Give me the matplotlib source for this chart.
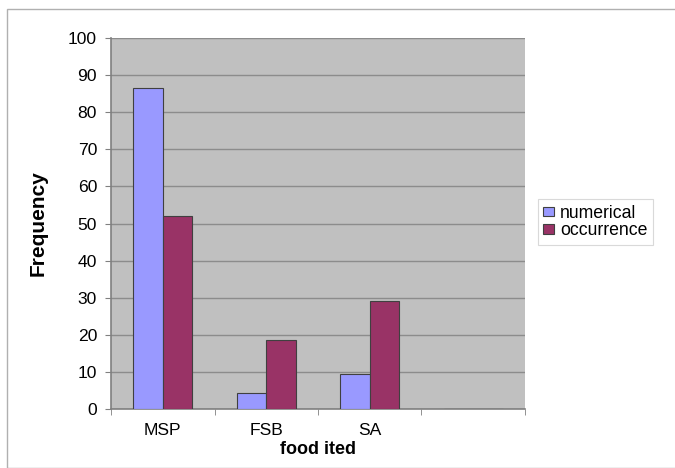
import numpy as np
import matplotlib
matplotlib.use("Agg")
import matplotlib.pyplot as plt
from matplotlib.patches import Rectangle

plt.rcParams["font.family"] = ["Liberation Sans", "DejaVu Sans"]

# data
categories = ["MSP", "FSB", "SA", ""]
numerical = [86.5, 4.4, 9.3, 0]
occurrence = [52, 18.5, 29, 0]
series_names = ["numerical", "occurrence"]
colors = ["#9999ff", "#993366"]

fig = plt.figure(figsize=(6.75, 4.68), dpi=100)
# outer chart border
fig.patches.append(Rectangle((7 / 675, 0.0), 1.0, 1 - 9 / 468, transform=fig.transFigure,
                             fill=False, edgecolor="#b0b0b0", lw=1.0))

ax = fig.add_axes([111 / 675, 1 - 409 / 468, 414 / 675, 371 / 468])
ax.set_facecolor("#c0c0c0")

x = np.arange(len(categories))
w = 1 / 3.5
ax.bar(x - w / 2, numerical, w, color=colors[0], edgecolor="#404040", lw=0.8,
       label=series_names[0], zorder=3)
ax.bar(x + w / 2, occurrence, w, color=colors[1], edgecolor="#404040", lw=0.8,
       label=series_names[1], zorder=3)

ax.set_xlim(-0.5, len(categories) - 0.5)
ax.set_ylim(0, 100)
ax.set_yticks(range(0, 101, 10))
ax.yaxis.grid(True, color="#8c8c8c", lw=1.0, zorder=0)

ax.set_xticks(x)
ax.set_xticklabels(categories)
ax.set_xticks(np.arange(-0.5, len(categories)), minor=True)
ax.tick_params(axis="x", which="major", length=0, labelsize=12.6, pad=10)
ax.tick_params(axis="x", which="minor", length=4, color="#808080")
ax.tick_params(axis="y", length=4, color="#808080", labelsize=12.6, pad=6)

for side in ["top", "right"]:
    ax.spines[side].set_visible(False)
for side in ["left", "bottom"]:
    ax.spines[side].set_color("#808080")
    ax.spines[side].set_linewidth(1.2)

ax.set_xlabel("food ited", fontsize=13, fontweight="bold", labelpad=2)
ax.set_ylabel("Frequency", fontsize=15, fontweight="bold", labelpad=15)

leg = fig.legend(loc="center left", bbox_to_anchor=(538 / 675, 1 - 222 / 468),
                 fontsize=12.7, frameon=True, fancybox=False, edgecolor="#d0d0d0",
                 handlelength=0.6, handleheight=0.45, handletextpad=0.35,
                 borderpad=0.3, labelspacing=0.05, borderaxespad=0)
leg.get_frame().set_linewidth(0.8)

fig.savefig("out.png", dpi=100)
